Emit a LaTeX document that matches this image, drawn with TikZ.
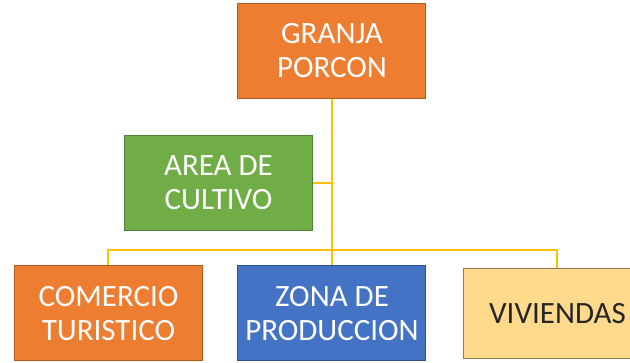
\documentclass[tikz,border=0pt]{standalone}
\usepackage{fontspec}
\setmainfont{Carlito}
\usetikzlibrary{positioning}

\definecolor{orgfill}{HTML}{ED7D31}
\definecolor{orgline}{HTML}{AE5A21}
\definecolor{grnfill}{HTML}{70AD47}
\definecolor{grnline}{HTML}{507E32}
\definecolor{blufill}{HTML}{4472C4}
\definecolor{bluline}{HTML}{2F528F}
\definecolor{ylwfill}{HTML}{FFD98C}
\definecolor{ylwline}{HTML}{8F7A55}
\definecolor{linkcol}{HTML}{FFC000}

\tikzset{
  unit/.style={rectangle, line width=1pt, minimum width=188pt, minimum height=95pt,
    align=center, text=white, font=\fontsize{31}{34}\selectfont},
  orgbox/.style={unit, fill=orgfill, draw=orgline},
  grnbox/.style={unit, fill=grnfill, draw=grnline},
  blubox/.style={unit, fill=blufill, draw=bluline},
  ylwbox/.style={unit, fill=ylwfill, draw=ylwline, text=black!85, minimum height=90pt},
  link/.style={draw=linkcol, line width=2pt}
}

\begin{document}
\begin{tikzpicture}[node distance=2cm,on grid]
 \useasboundingbox (-332pt,51pt) rectangle (298pt,-312pt);
 \node[orgbox] (granja) at (0,0) {GRANJA\\PORCON};
 \node[grnbox] (area) [below left=132pt and 113.5pt of granja] {AREA DE\\CULTIVO};
 \node[blubox] (zona) [below=262.5pt of granja] {ZONA DE\\PRODUCCION};
 \node[orgbox] (comercio) [left=223.5pt of zona] {COMERCIO\\TURISTICO};
 \node[ylwbox] (viviendas) [right=225.5pt of zona] {VIVIENDAS};
 \coordinate[above=15pt of zona.north] (bar);
 \path[link]
 (granja.south) -- (zona.north)
 (area.east) -- (area.east -| granja)
 (comercio.north) |- (bar) -| (viviendas.north);
\end{tikzpicture}
\end{document}
